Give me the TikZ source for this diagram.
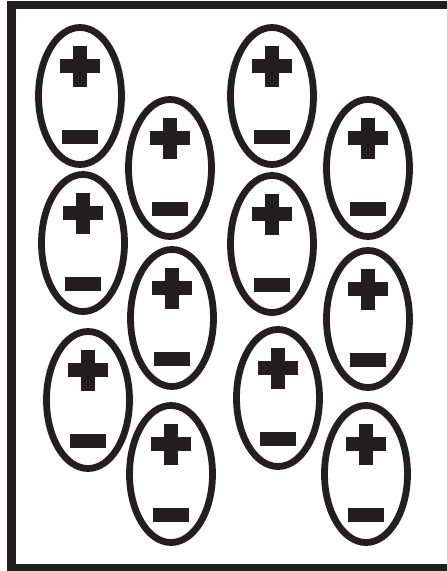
\documentclass[tikz,border=0pt]{standalone}
\usetikzlibrary{shapes.geometric}
\definecolor{ink}{HTML}{231F20}
\begin{document}
\begin{tikzpicture}[x=1pt,y=-1pt,
  dipole/.style={draw=ink, line width=6.8pt, ellipse, minimum width=83pt, minimum height=137pt, inner sep=0pt},
  frame/.style={draw=ink, line width=8.5pt},
  charge/.style={fill=ink}]
\useasboundingbox (0,0) rectangle (447,571);
\clip (0,0) rectangle (447,571);
\coordinate (ftr) at (480,5);
\coordinate (ftl) at (11.5,5);
\coordinate (fbl) at (11.5,568);
\coordinate (fbr) at (480,568);
\draw[frame] (ftr) -- (ftl) -- (fbl) -- (fbr);
\foreach \n/\x/\y in {a1/80/96, a2/83/243, a3/88/400, b1/170/168, b2/172/318, b3/171/474, c1/272/96, c2/272/244, c3/278/398, d1/368/168, d2/368/319, d3/366/474} {
  \node[dipole] (\n) at (\x,\y) {};
  \fill[charge] ([shift={(-20,-37)}]\n.center) rectangle ([shift={(20,-23)}]\n.center);
  \fill[charge] ([shift={(-7,-50.5)}]\n.center) rectangle ([shift={(7,-9.5)}]\n.center);
  \fill[charge] ([shift={(-18,34)}]\n.center) rectangle ([shift={(18,48)}]\n.center);
}
\end{tikzpicture}
\end{document}
